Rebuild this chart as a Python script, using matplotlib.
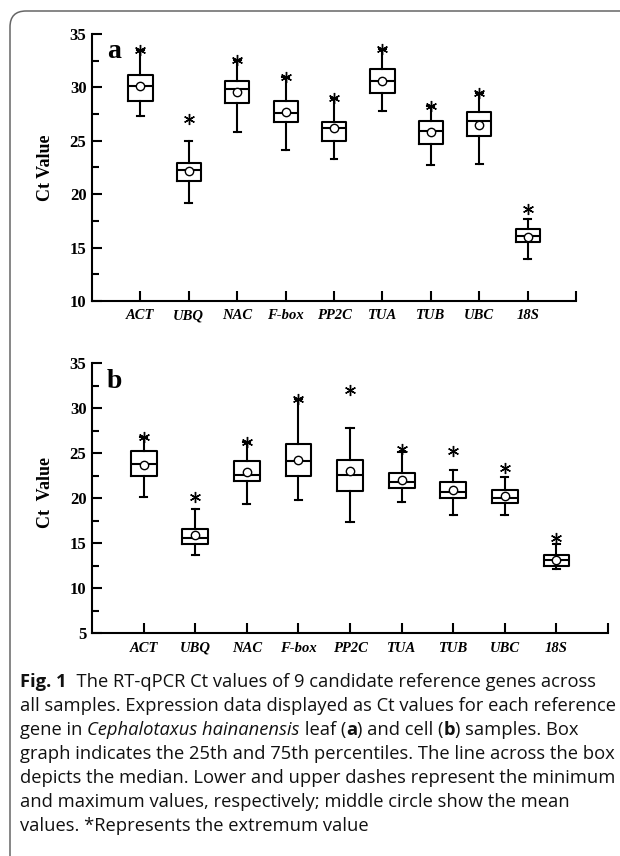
import matplotlib
matplotlib.use('Agg')
import matplotlib.pyplot as plt
from matplotlib.patches import FancyBboxPatch
from matplotlib.ticker import MultipleLocator
from matplotlib.transforms import IdentityTransform

W, H = 620, 856

genes = ['ACT', 'UBQ', 'NAC', 'F-box', 'PP2C', 'TUA', 'TUB', 'UBC', '18S']

# panel a (leaf)
a_min = [27.3, 19.2, 25.8, 24.1, 23.3, 27.8, 22.7, 22.8, 13.9]
a_q1 = [28.7, 21.2, 28.5, 26.8, 25.0, 29.5, 24.7, 25.45, 15.5]
a_med = [30.1, 22.3, 29.85, 27.6, 26.2, 30.6, 25.9, 26.9, 16.1]
a_q3 = [31.2, 22.9, 30.6, 28.7, 26.8, 31.7, 26.85, 27.7, 16.7]
a_max = [33.5, 25.0, 32.6, 30.95, 29.0, 33.6, 28.3, 29.5, 17.7]
a_mean = [30.1, 22.2, 29.6, 27.7, 26.2, 30.6, 25.8, 26.5, 16.0]
a_ext = [33.5, 27.0, 32.6, 30.95, 29.0, 33.6, 28.3, 29.5, 18.6]

# panel b (cell)
b_min = [20.2, 13.65, 19.4, 19.8, 17.4, 19.6, 18.2, 18.1, 12.15]
b_q1 = [22.5, 14.95, 21.9, 22.45, 20.85, 21.2, 20.05, 19.5, 12.5]
b_med = [23.8, 15.55, 22.6, 24.1, 22.55, 21.8, 20.65, 20.05, 13.15]
b_q3 = [25.25, 16.55, 24.15, 26.0, 24.3, 22.8, 21.85, 20.95, 13.65]
b_max = [26.8, 18.85, 26.25, 31.0, 27.85, 25.1, 23.2, 22.4, 14.95]
b_mean = [23.75, 15.9, 22.95, 24.3, 23.0, 22.0, 20.95, 20.3, 13.2]
b_ext = [26.8, 20.1, 26.25, 31.0, 32.0, 25.45, 25.3, 23.4, 15.6]

caption = [
    [('Fig. 1', 'bold', 'normal'),
     ('  The RT-qPCR Ct values of 9 candidate reference genes across', 'normal', 'normal')],
    [('all samples. Expression data displayed as Ct values for each reference', 'normal', 'normal')],
    [('gene in ', 'normal', 'normal'), ('Cephalotaxus hainanensis', 'normal', 'italic'),
     (' leaf (', 'normal', 'normal'), ('a', 'bold', 'normal'),
     (') and cell (', 'normal', 'normal'), ('b', 'bold', 'normal'),
     (') samples. Box', 'normal', 'normal')],
    [('graph indicates the 25th and 75th percentiles. The line across the box', 'normal', 'normal')],
    [('depicts the median. Lower and upper dashes represent the minimum', 'normal', 'normal')],
    [('and maximum values, respectively; middle circle show the mean', 'normal', 'normal')],
    [('values. *Represents the extremum value', 'normal', 'normal')],
]

SERIF = 'Liberation Serif'
SANS = 'Open Sans'


def box_panel(ax, lo, q1, med, q3, hi, mean, ext, ymin, ymax, letter, ylabel, label_y):
    stats = []
    for i in range(len(genes)):
        stats.append(dict(whislo=lo[i], q1=q1[i], med=med[i], q3=q3[i],
                          whishi=hi[i], mean=mean[i], fliers=[ext[i]],
                          label=genes[i]))
    lw = 1.5
    ax.bxp(stats, positions=range(1, len(genes) + 1), widths=0.5,
           capwidths=0.14, showmeans=True, showfliers=True,
           boxprops=dict(color='black', lw=lw),
           medianprops=dict(color='black', lw=lw),
           whiskerprops=dict(color='black', lw=lw),
           capprops=dict(color='black', lw=lw),
           meanprops=dict(marker='o', markerfacecolor='white',
                          markeredgecolor='black', markersize=6,
                          markeredgewidth=1.0),
           flierprops=dict(marker=(6, 2, 0), markeredgecolor='black',
                           markersize=8, markeredgewidth=1.0))
    ax.set_xlim(0, 10)
    ax.set_ylim(ymin, ymax)
    ax.set_xticks(range(1, 11))
    ax.set_xticklabels(genes + [''], fontfamily=SERIF, fontweight='bold',
                       fontstyle='italic', fontsize=10.5)
    ax.yaxis.set_major_locator(MultipleLocator(5))
    ax.yaxis.set_minor_locator(MultipleLocator(2.5))
    for lab in ax.get_yticklabels():
        lab.set_fontfamily(SERIF)
        lab.set_fontweight('bold')
        lab.set_fontsize(12)
    ax.tick_params(axis='both', which='major', direction='in', length=7,
                   width=1.5, color='black')
    ax.tick_params(axis='y', which='minor', direction='in', length=5,
                   width=1.5)
    ax.tick_params(axis='y', pad=4)
    ax.tick_params(axis='x', pad=6)
    for s in ['top', 'right']:
        ax.spines[s].set_visible(False)
    for s in ['left', 'bottom']:
        ax.spines[s].set_linewidth(1.5)
    ax.set_ylabel(ylabel, fontfamily=SERIF, fontweight='bold', fontsize=13)
    ax.yaxis.label.set_va('center')
    wpx = ax.get_position().width * W
    ax.yaxis.set_label_coords(-46 / wpx, label_y)
    ax.text(15 / wpx, 0.91, letter, transform=ax.transAxes,
            fontfamily=SERIF, fontweight='bold', fontsize=20, va='baseline')


fig = plt.figure(figsize=(W / 100, H / 100), dpi=100)

ax_a = fig.add_axes([92 / W, 1 - 301 / H, 484 / W, 267 / H])
box_panel(ax_a, a_min, a_q1, a_med, a_q3, a_max, a_mean, a_ext, 10, 35,
          'a', 'Ct Value', 0.5)

ax_b = fig.add_axes([92 / W, 1 - 633.3 / H, 516 / W, 270 / H])
box_panel(ax_b, b_min, b_q1, b_med, b_q3, b_max, b_mean, b_ext, 5, 35,
          'b', 'Ct  Value', 0.52)

# rounded frame, partly running off the right and bottom edges
frame = FancyBboxPatch((10, -40), 650, 845 + 40, transform=IdentityTransform(),
                       boxstyle='round,pad=0,rounding_size=16',
                       facecolor='none', edgecolor='#666666', lw=1.1)
fig.patches.append(frame)

# caption, drawn run by run so bold / italic words sit inline
renderer = fig.canvas.get_renderer()
probe = fig.text(0, 0, caption[3][0][0], fontsize=10, family=SANS)
size = 10 * 593 / probe.get_window_extent(renderer).width
probe.remove()

for k, line in enumerate(caption):
    x = 20
    y = 686.7 + 24 * k
    for txt, weight, style in line:
        t = fig.text(x / W, 1 - y / H, txt, fontsize=size, family=SANS,
                     fontweight=weight, fontstyle=style, va='baseline',
                     color='#111111')
        x += t.get_window_extent(renderer).width

fig.savefig('out.png', dpi=100)
